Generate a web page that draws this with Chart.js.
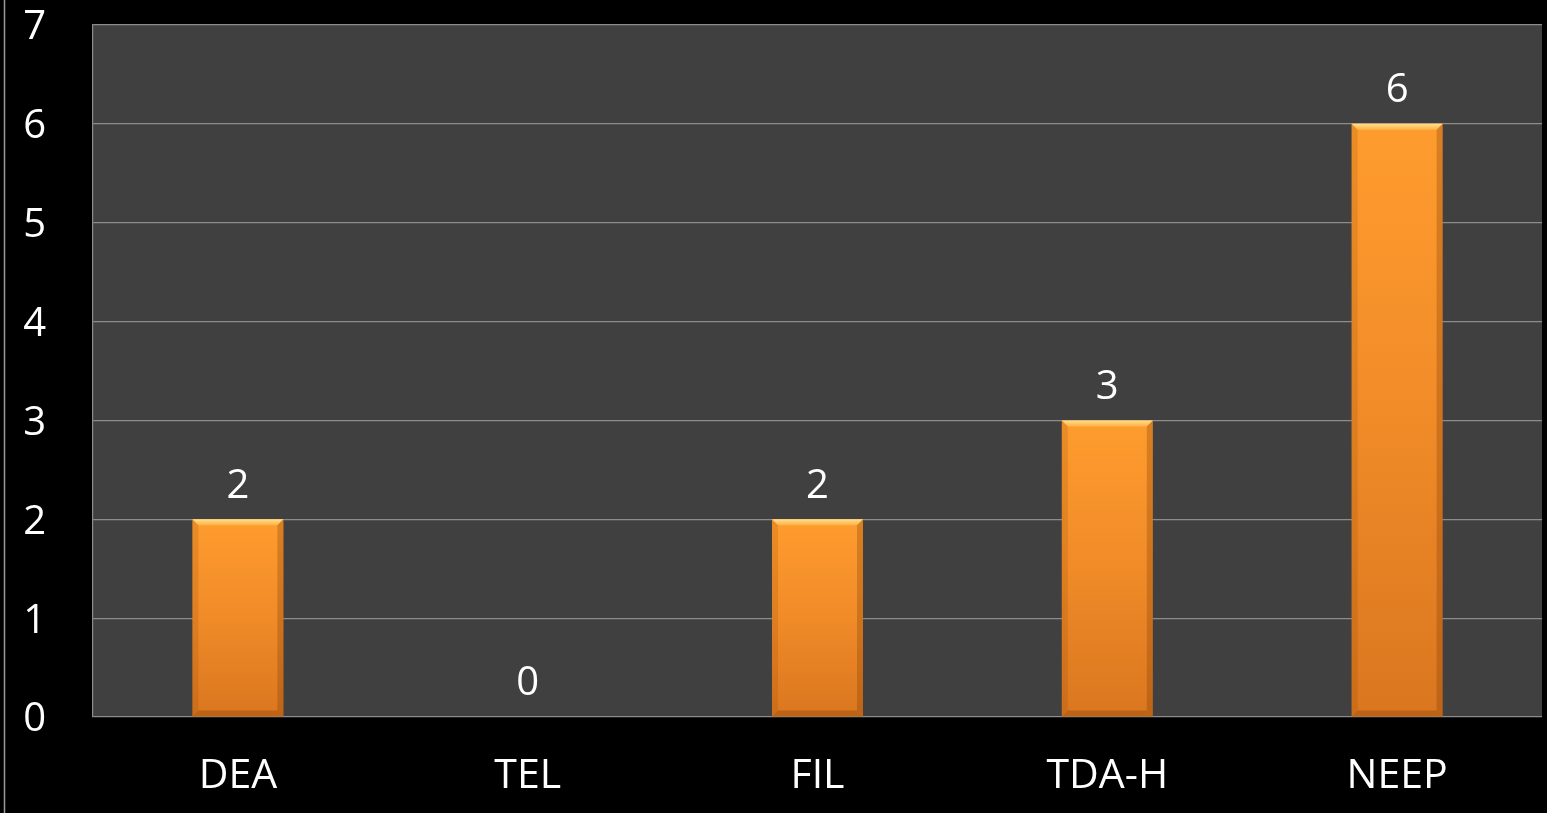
<!DOCTYPE html>
<html>
<head>
<meta charset="utf-8">
<script src="https://cdn.jsdelivr.net/npm/chart.js@4/dist/chart.umd.min.js"></script>
<style>
  html, body { margin: 0; padding: 0; background: #000; }
  #wrap { width: 1547px; height: 813px; position: relative; }
</style>
</head>
<body>
<div id="wrap"><canvas id="countChart" width="1547" height="813"></canvas></div>
<script>
"use strict";
// chart data
var categories = ["DEA", "TEL", "FIL", "TDA-H", "NEEP"];
var counts = [2, 0, 2, 3, 6];
var yTicks = [0, 1, 2, 3, 4, 5, 6, 7];

var FONT = "'Open Sans', 'DejaVu Sans', sans-serif";
var GRID = "#8c8c8c";

// black page, thin frame line at left, dark plot area
var backdrop = {
	id: 'backdrop',
	beforeDraw: function (chart) {
		var c = chart.ctx, a = chart.chartArea;
		c.save();
		c.fillStyle = '#000';
		c.fillRect(0, 0, chart.width, chart.height);
		c.strokeStyle = '#9a9a9a';
		c.lineWidth = 1.5;
		c.beginPath();
		c.moveTo(4.5, 0);
		c.lineTo(4.5, chart.height);
		c.stroke();
		c.fillStyle = '#404040';
		c.fillRect(a.left, a.top, a.right - a.left, a.bottom - a.top);
		c.restore();
	}
};

// bevel edges on the bars + value labels above them
var bevel = {
	id: 'bevel',
	afterDatasetsDraw: function (chart) {
		var c = chart.ctx;
		var meta = chart.getDatasetMeta(0);
		c.save();
		meta.data.forEach(function (bar, i) {
			var l = bar.x - bar.width / 2, r = bar.x + bar.width / 2;
			var t = bar.y, b = bar.base, s = 6;
			if (b - t > 2 * s) {
				// top
				var g = c.createLinearGradient(0, t, 0, t + s);
				g.addColorStop(0, 'rgba(255,228,150,0.95)');
				g.addColorStop(1, 'rgba(255,200,95,0.55)');
				c.fillStyle = g;
				c.beginPath();
				c.moveTo(l, t); c.lineTo(r, t); c.lineTo(r - s, t + s); c.lineTo(l + s, t + s);
				c.closePath(); c.fill();
				// left
				c.fillStyle = 'rgba(130,60,0,0.16)';
				c.beginPath();
				c.moveTo(l, t); c.lineTo(l + s, t + s); c.lineTo(l + s, b - s); c.lineTo(l, b);
				c.closePath(); c.fill();
				// right
				c.fillStyle = 'rgba(120,55,0,0.28)';
				c.beginPath();
				c.moveTo(r, t); c.lineTo(r - s, t + s); c.lineTo(r - s, b - s); c.lineTo(r, b);
				c.closePath(); c.fill();
				// bottom
				c.fillStyle = 'rgba(110,50,0,0.28)';
				c.beginPath();
				c.moveTo(l, b); c.lineTo(r, b); c.lineTo(r - s, b - s); c.lineTo(l + s, b - s);
				c.closePath(); c.fill();
			}
			c.fillStyle = '#fff';
			c.font = '40px ' + FONT;
			c.textAlign = 'center';
			c.textBaseline = 'middle';
			c.fillText(String(counts[i]), bar.x, t - 33);
		});
		c.restore();
	}
};

// per-bar vertical gradient, from the bar's own top down to the axis
function barFill(context) {
	var chart = context.chart, a = chart.chartArea;
	if (!a || context.parsed === undefined) { return '#f28a28'; }
	var top = chart.scales.y.getPixelForValue(context.parsed.y);
	if (a.bottom - top < 1) { return '#f28a28'; }
	var g = chart.ctx.createLinearGradient(0, top, 0, a.bottom);
	g.addColorStop(0, '#ff9c2e');
	g.addColorStop(0.5, '#f08b28');
	g.addColorStop(1, '#da761f');
	return g;
}

var ctx = document.getElementById("countChart");
var chart = new Chart(ctx, {
	type: 'bar',
	data: {
		labels: categories,
		datasets: [{
			data: counts,
			backgroundColor: barFill,
			borderWidth: 0,
			categoryPercentage: 1,
			barPercentage: 0.314
		}]
	},
	options: {
		responsive: false,
		animation: false,
		layout: { padding: { top: 25, right: 5, left: 0, bottom: 0 } },
		plugins: {
			legend: { display: false },
			tooltip: { enabled: false }
		},
		scales: {
			x: {
				grid: { display: false, drawTicks: false },
				border: { display: false },
				ticks: {
					color: '#fff',
					font: { family: FONT, size: 41 },
					padding: 35
				},
				afterFit: function (scale) {
					scale.height = 96;
					scale.paddingLeft = 0;
					scale.paddingRight = 0;
				}
			},
			y: {
				min: 0,
				max: 7,
				afterBuildTicks: function (scale) {
					scale.ticks = yTicks.map(function (v) { return { value: v }; });
				},
				grid: { color: GRID, lineWidth: 1.2, drawTicks: false },
				border: { display: true, color: GRID, width: 1.2 },
				ticks: {
					color: '#fff',
					font: { family: FONT, size: 40 },
					padding: 47,
					labelOffset: 3
				},
				afterFit: function (scale) {
					scale.width = 93;
					scale.paddingTop = 0;
					scale.paddingBottom = 0;
				}
			}
		}
	},
	plugins: [backdrop, bevel]
});
</script>
</body>
</html>
